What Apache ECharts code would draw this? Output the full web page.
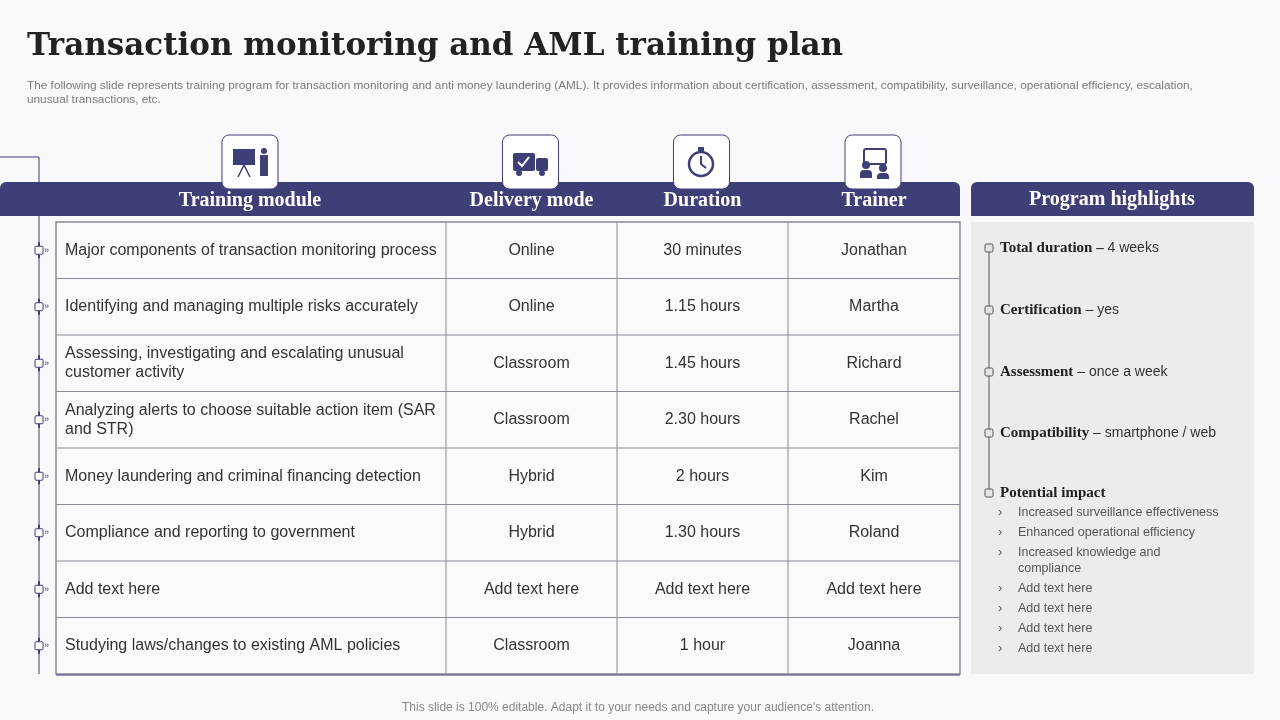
<!DOCTYPE html>
<html><head><meta charset="utf-8">
<script src="https://cdn.jsdelivr.net/npm/echarts@6/dist/echarts.min.js"></script>
<style>html,body{margin:0;padding:0;background:#f9f9fb}#c{width:1280px;height:720px}</style>
</head><body><div id="c"></div>
<script>
const headers = ['Training module','Delivery mode','Duration','Trainer'];
const modules = ['Major components of transaction monitoring process','Identifying and managing multiple risks accurately','Assessing, investigating and escalating unusual\ncustomer activity','Analyzing alerts to choose suitable action item (SAR\nand STR)','Money laundering and criminal financing detection','Compliance and reporting to government','Add text here','Studying laws/changes to existing AML policies'];
const modes = ['Online','Online','Classroom','Classroom','Hybrid','Hybrid','Add text here','Classroom'];
const durations = ['30 minutes','1.15 hours','1.45 hours','2.30 hours','2 hours','1.30 hours','Add text here','1 hour'];
const trainers = ['Jonathan','Martha','Richard','Rachel','Kim','Roland','Add text here','Joanna'];
const highlightKeys = ['Total duration –','Certification','Assessment','Compatibility','Potential impact'];
const highlightVals = [' 4 weeks',' – yes',' – once a week',' – smartphone / web',''];
const impacts = ['Increased surveillance effectiveness','Enhanced operational efficiency','Increased knowledge and\ncompliance','Add text here','Add text here','Add text here','Add text here'];

const NAVY='#3f3f78', SERIF='"DejaVu Serif", serif', HSERIF='"Liberation Serif", serif', SANS='"Liberation Sans", Arial, sans-serif';
const colX=[56,446,617,788,960], tTop=222, rowH=56.5;
const g=[];
g.push({type:'text',left:27,top:31,style:{text:'Transaction monitoring and AML training plan',font:'bold 31px '+SERIF,fill:'#222'}});
g.push({type:'text',left:27,top:79,style:{text:'The following slide represents training program for transaction monitoring and anti money laundering (AML). It provides information about certification, assessment, compatibility, surveillance, operational efficiency, escalation,\nunusual transactions, etc.',font:'11.8px '+SANS,fill:'#7a7a7a',lineHeight:14}});
g.push({type:'rect',shape:{x:0,y:182,width:960,height:34,r:[6,6,0,0]},style:{fill:NAVY}});
g.push({type:'rect',shape:{x:971,y:182,width:283,height:34,r:[6,6,0,0]},style:{fill:NAVY}});
g.push({type:'text',x:1112,y:200,style:{text:'Program highlights',font:'bold 20px '+HSERIF,fill:'#fff',align:'center',verticalAlign:'middle'}});
headers.forEach((h,i)=>{
  const cx=i===0?250:(colX[i]+colX[i+1])/2;
  g.push({type:'text',x:cx,y:201,style:{text:h,font:'bold 20px '+HSERIF,fill:'#fff',align:'center',verticalAlign:'middle'}});
  const ix=i===0?250:cx-1;
  g.push({type:'rect',shape:{x:ix-28,y:135,width:56,height:54,r:7},style:{fill:'#fff',stroke:NAVY,lineWidth:1}});
});
g.push({type:'rect',shape:{x:233,y:149,width:22,height:16},style:{fill:NAVY}});
g.push({type:'polyline',shape:{points:[[238,177],[244,165],[250,177]]},style:{stroke:NAVY,lineWidth:1.5,fill:null}});
g.push({type:'circle',shape:{cx:264,cy:151,r:3},style:{fill:NAVY}});
g.push({type:'rect',shape:{x:260,y:155,width:8,height:21},style:{fill:NAVY}});
g.push({type:'rect',shape:{x:513,y:153,width:22,height:18,r:2},style:{fill:NAVY}});
g.push({type:'rect',shape:{x:536,y:158,width:12,height:13,r:2},style:{fill:NAVY}});
g.push({type:'circle',shape:{cx:519,cy:173,r:3},style:{fill:NAVY}});
g.push({type:'circle',shape:{cx:542,cy:173,r:3},style:{fill:NAVY}});
g.push({type:'polyline',shape:{points:[[518,162],[522,166],[529,157]]},style:{stroke:'#fff',lineWidth:2,fill:null}});
g.push({type:'circle',shape:{cx:701,cy:164,r:12},style:{fill:'#fff',stroke:NAVY,lineWidth:2.5}});
g.push({type:'rect',shape:{x:698,y:147,width:6,height:4},style:{fill:NAVY}});
g.push({type:'polyline',shape:{points:[[701,156],[701,164],[706,168]]},style:{stroke:NAVY,lineWidth:2,fill:null}});
g.push({type:'rect',shape:{x:864,y:149,width:22,height:15,r:2},style:{fill:'#fff',stroke:NAVY,lineWidth:2}});
g.push({type:'circle',shape:{cx:866,cy:165,r:4},style:{fill:NAVY}});
g.push({type:'rect',shape:{x:860,y:170,width:12,height:8,r:[4,4,0,0]},style:{fill:NAVY}});
g.push({type:'circle',shape:{cx:883,cy:168,r:4},style:{fill:NAVY}});
g.push({type:'rect',shape:{x:877,y:173,width:12,height:6,r:[4,4,0,0]},style:{fill:NAVY}});
const n=modules.length, bottom=tTop+rowH*n;
g.push({type:'rect',shape:{x:56,y:tTop,width:904,height:rowH*n},style:{fill:'#fafafc',stroke:'#8a8a9a',lineWidth:1.5}});
for(let r=1;r<n;r++) g.push({type:'line',shape:{x1:56,y1:tTop+r*rowH,x2:960,y2:tTop+r*rowH},style:{stroke:'#8a8a9a',lineWidth:1}});
for(let c=1;c<4;c++) g.push({type:'line',shape:{x1:colX[c],y1:tTop,x2:colX[c],y2:bottom},style:{stroke:'#8a8a9a',lineWidth:1}});
g.push({type:'line',shape:{x1:56,y1:bottom+1,x2:960,y2:bottom+1},style:{stroke:'#3f3f78',lineWidth:1}});
g.push({type:'polyline',shape:{points:[[0,157],[39,157],[39,bottom]]},style:{stroke:NAVY,lineWidth:1,fill:null}});
const cols=[modes,durations,trainers];
modules.forEach((m,r)=>{
  const cy=tTop+r*rowH+rowH/2;
  g.push({type:'text',x:65,y:cy,style:{text:m,font:'16px '+SANS,fill:'#333',verticalAlign:'middle',lineHeight:19}});
  cols.forEach((arr,c)=>g.push({type:'text',x:(colX[c+1]+colX[c+2])/2,y:cy,style:{text:arr[r],font:'16px '+SANS,fill:'#333',align:'center',verticalAlign:'middle'}}));
  g.push({type:'line',shape:{x1:39,y1:cy-8,x2:39,y2:cy+8},style:{stroke:NAVY,lineWidth:2}});
  g.push({type:'rect',shape:{x:35,y:cy-4,width:8,height:8,r:1},style:{fill:'#fff',stroke:NAVY,lineWidth:1}});
  g.push({type:'text',x:44,y:cy,style:{text:'»',font:'9px '+SANS,fill:NAVY,verticalAlign:'middle'}});
});
g.push({type:'rect',shape:{x:971,y:222,width:283,height:452},style:{fill:'#ececee'}});
const hy=[248,310,372,433,493];
g.push({type:'line',shape:{x1:989,y1:hy[0],x2:989,y2:hy[4]},style:{stroke:'#555',lineWidth:1}});
highlightKeys.forEach((k,i)=>{
  g.push({type:'rect',shape:{x:985,y:hy[i]-4,width:8,height:8,r:1.5},style:{fill:'#e4e4e6',stroke:'#555',lineWidth:1}});
  g.push({type:'text',x:1000,y:hy[i],style:{text:'{b|'+k+'}{n|'+highlightVals[i]+'}',verticalAlign:'middle',rich:{b:{font:'bold 15px '+HSERIF,fill:'#222'},n:{font:'14px '+SANS,fill:'#333'}}}});
});
const iy=[512,532,552,588,608,628,648];
impacts.forEach((t,i)=>{
  g.push({type:'text',x:998,y:iy[i],style:{text:'›',font:'13px '+SANS,fill:'#555',verticalAlign:'middle'}});
  g.push({type:'text',x:1018,y:iy[i]-7,style:{text:t,font:'12.5px '+SANS,fill:'#555',verticalAlign:'top',lineHeight:16}});
});
g.push({type:'text',x:638,y:708,style:{text:"This slide is 100% editable. Adapt it to your needs and capture your audience's attention.",font:'12px '+SANS,fill:'#888',align:'center',verticalAlign:'middle'}});
const chart=echarts.init(document.getElementById('c'));
chart.setOption({backgroundColor:'#f9f9fb',animation:false,graphic:g});
</script></body></html>
